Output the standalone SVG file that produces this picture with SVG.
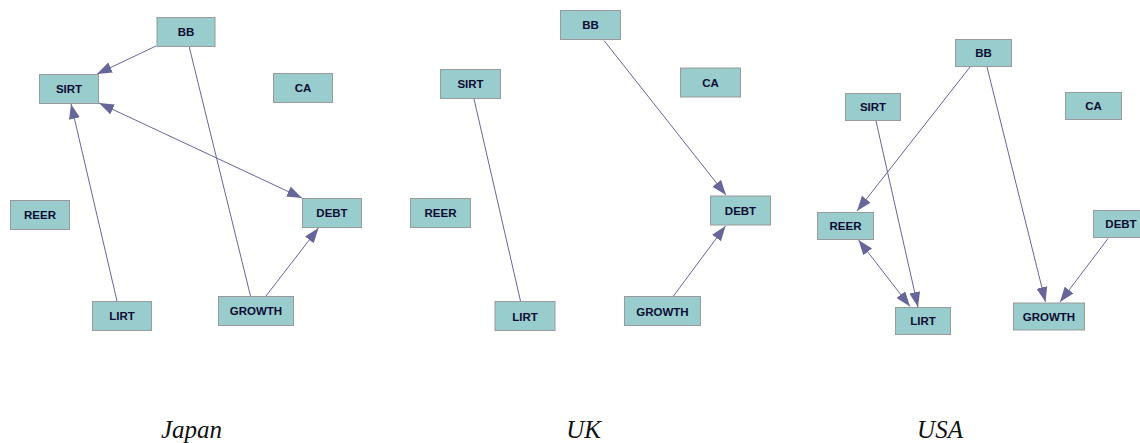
<svg xmlns="http://www.w3.org/2000/svg" width="1140" height="443" viewBox="0 0 1140 443">
  <style>
    .node rect { fill: #99cccc; stroke: #9a9a9a; stroke-width: 1; }
    .node text { font-family: "Liberation Sans", Arial, sans-serif; font-weight: bold; font-size: 11.5px; fill: #0c0c34; text-anchor: middle; dominant-baseline: central; }
    .edges line { stroke: #66669a; stroke-width: 1; fill: none; }
    .arrow { marker-end: url(#head); }
    .both { marker-start: url(#head); marker-end: url(#head); }
    .caption { font-family: "Liberation Serif", "Times New Roman", serif; font-style: italic; font-size: 25px; fill: #111; text-anchor: middle; }
  </style>
  <defs>
    <marker id="head" markerUnits="userSpaceOnUse" markerWidth="16" markerHeight="12" refX="15" refY="5.5" orient="auto-start-reverse">
      <path d="M0,0 L15,5.5 L0,11 Z" fill="#66669a"/>
    </marker>
  </defs>
  <rect width="1140" height="443" fill="#ffffff"/>

  <!-- Japan -->
  <g class="edges" id="edges-japan">
    <line class="arrow" x1="156" y1="46" x2="97" y2="74"/>
    <line class="both" x1="99" y1="103" x2="302" y2="198"/>
    <line class="arrow" x1="117" y1="301" x2="71" y2="104"/>
    <line x1="189" y1="46" x2="250.5" y2="296"/>
    <line class="arrow" x1="266" y1="296" x2="318.5" y2="228"/>
  </g>
  <g class="node" id="jp-bb"><rect x="157" y="17.5" width="58" height="29"/><text x="186" y="32">BB</text></g>
  <g class="node" id="jp-sirt"><rect x="39.5" y="74.5" width="59" height="29"/><text x="69" y="89">SIRT</text></g>
  <g class="node" id="jp-ca"><rect x="273.5" y="73.5" width="59" height="29"/><text x="303" y="88">CA</text></g>
  <g class="node" id="jp-reer"><rect x="10.5" y="200.5" width="59" height="29"/><text x="40" y="215">REER</text></g>
  <g class="node" id="jp-debt"><rect x="302.5" y="198.5" width="59" height="29"/><text x="332" y="213">DEBT</text></g>
  <g class="node" id="jp-lirt"><rect x="92.5" y="301.5" width="59" height="29"/><text x="122" y="316">LIRT</text></g>
  <g class="node" id="jp-growth"><rect x="218.5" y="296.5" width="75" height="29"/><text x="256" y="311">GROWTH</text></g>

  <!-- UK -->
  <g class="edges" id="edges-uk">
    <line x1="474" y1="99" x2="520.5" y2="301"/>
    <line class="arrow" x1="604" y1="40.5" x2="726" y2="195"/>
    <line class="arrow" x1="673.5" y1="296" x2="725.5" y2="226"/>
  </g>
  <g class="node" id="uk-bb"><rect x="560.5" y="10.5" width="60" height="29"/><text x="590.5" y="25">BB</text></g>
  <g class="node" id="uk-sirt"><rect x="440.5" y="69.5" width="60" height="29"/><text x="470.5" y="84">SIRT</text></g>
  <g class="node" id="uk-ca"><rect x="680.5" y="68" width="60" height="29"/><text x="710.5" y="83">CA</text></g>
  <g class="node" id="uk-reer"><rect x="410.5" y="198.5" width="60" height="29"/><text x="440.5" y="213">REER</text></g>
  <g class="node" id="uk-debt"><rect x="710.5" y="196" width="60" height="29"/><text x="740.5" y="211">DEBT</text></g>
  <g class="node" id="uk-lirt"><rect x="495" y="301.5" width="60" height="29"/><text x="525" y="316.5">LIRT</text></g>
  <g class="node" id="uk-growth"><rect x="624.5" y="296.5" width="76" height="29"/><text x="662.5" y="311.5">GROWTH</text></g>

  <!-- USA -->
  <g class="edges" id="edges-usa">
    <line class="arrow" x1="970" y1="67" x2="857" y2="211"/>
    <line class="arrow" x1="987" y1="67" x2="1045.5" y2="302"/>
    <line class="arrow" x1="876" y1="121" x2="918" y2="307"/>
    <line class="both" x1="858.5" y1="240" x2="910" y2="306.5"/>
    <line class="arrow" x1="1108" y1="238.5" x2="1060" y2="302"/>
  </g>
  <g class="node" id="us-bb"><rect x="955.5" y="39.5" width="56" height="27"/><text x="983.5" y="53">BB</text></g>
  <g class="node" id="us-sirt"><rect x="845.5" y="93.5" width="55" height="27"/><text x="873" y="107">SIRT</text></g>
  <g class="node" id="us-ca"><rect x="1065.5" y="92.5" width="56" height="27"/><text x="1093.5" y="106">CA</text></g>
  <g class="node" id="us-reer"><rect x="817.5" y="212.5" width="56" height="27"/><text x="845.5" y="226">REER</text></g>
  <g class="node" id="us-debt"><rect x="1093.5" y="210.5" width="56" height="27"/><text x="1121" y="224">DEBT</text></g>
  <g class="node" id="us-lirt"><rect x="895.5" y="307.5" width="55" height="27"/><text x="923" y="321">LIRT</text></g>
  <g class="node" id="us-growth"><rect x="1013.5" y="303" width="71" height="27"/><text x="1049" y="316.5">GROWTH</text></g>

  <!-- panel captions -->
  <text class="caption" x="191.5" y="438">Japan</text>
  <text class="caption" x="583.5" y="438">UK</text>
  <text class="caption" x="940" y="438">USA</text>
</svg>
